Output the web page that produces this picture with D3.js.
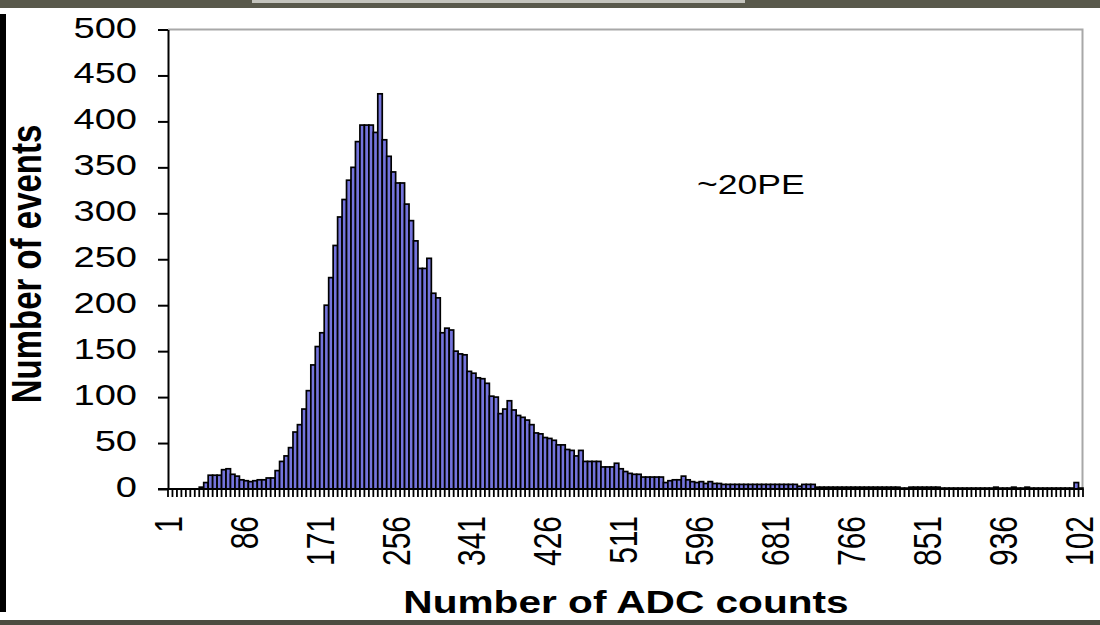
<!DOCTYPE html>
<html>
<head>
<meta charset="utf-8">
<script src="https://cdn.jsdelivr.net/npm/d3@7"></script>
<style>
  body{margin:0;background:#fff}
  svg{display:block}
</style>
</head>
<body>
<script>
// ADC bins (start of each 5-count bin)
const categories=[
  1,6,11,16,21,26,31,36,41,46,51,56,61,66,71,76,81,86,91,96,
  101,106,111,116,121,126,131,136,141,146,151,156,161,166,171,176,181,186,191,196,
  201,206,211,216,221,226,231,236,241,246,251,256,261,266,271,276,281,286,291,296,
  301,306,311,316,321,326,331,336,341,346,351,356,361,366,371,376,381,386,391,396,
  401,406,411,416,421,426,431,436,441,446,451,456,461,466,471,476,481,486,491,496,
  501,506,511,516,521,526,531,536,541,546,551,556,561,566,571,576,581,586,591,596,
  601,606,611,616,621,626,631,636,641,646,651,656,661,666,671,676,681,686,691,696,
  701,706,711,716,721,726,731,736,741,746,751,756,761,766,771,776,781,786,791,796,
  801,806,811,816,821,826,831,836,841,846,851,856,861,866,871,876,881,886,891,896,
  901,906,911,916,921,926,931,936,941,946,951,956,961,966,971,976,981,986,991,996,
  1001,1006,1011,1016,1021
];
// number of events per bin
const counts=[
  0,0,0,0,0,0,0,2,7,15,15,15,21,22,16,14,10,9,8,9,
  10,10,12,12,20,30,36,45,62,70,87,107,135,155,170,200,230,265,296,315,
  336,350,378,396,396,396,388,430,380,362,345,333,333,310,292,270,240,240,251,213,
  208,170,175,173,150,147,146,128,126,121,120,115,101,100,82,87,96,86,80,78,
  75,70,61,60,56,55,53,48,48,43,42,36,42,30,30,30,30,24,24,24,
  28,22,19,17,16,16,13,13,13,13,13,7,9,10,10,14,10,8,7,8,
  6,8,6,6,5,5,5,5,5,5,5,5,5,5,5,5,5,5,5,5,
  5,3,5,5,5,2,2,2,2,2,2,2,2,2,2,2,2,2,2,2,
  2,2,2,2,1,1,2,2,2,2,2,2,2,1,1,1,1,1,1,1,
  1,1,1,1,1,2,1,1,1,2,1,1,2,1,1,1,1,1,1,1,
  1,1,1,7,1
];
const yTicks=[0,50,100,150,200,250,300,350,400,450,500];
const tickCats=[1,86,171,256,341,426,511,596,681,766,851,936,1021];
const tickLabels=['1','86','171','256','341','426','511','596','681','766','851','936','102'];

const width=1100, height=625;
const sx=1.27;   // the source picture is stretched sideways, so is the text
const font='"Liberation Sans", Arial, sans-serif';

const svg=d3.select('body').append('svg')
    .attr('width',width)
    .attr('height',height);

// bits of the screenshot frame
svg.append('rect').attr('x',0).attr('y',0).attr('width',width).attr('height',8).attr('fill','#59594b');
svg.append('rect').attr('x',252).attr('y',0).attr('width',493).attr('height',3).attr('fill','#c4c4bd');
svg.append('rect').attr('x',0).attr('y',14).attr('width',6).attr('height',598).attr('fill','#000');
svg.append('rect').attr('x',0).attr('y',620).attr('width',width).attr('height',5).attr('fill','#4d4d41');

const x=d3.scaleBand()
    .domain(categories)
    .range([168,1083])
    .padding(0);
const y=d3.scaleLinear()
    .domain([0,500])
    .range([489,29.5]);

// plot area border (grey top / right)
svg.append('path')
    .attr('d',`M168,${y(500)}H${x.range()[1]-0.5}V${y(0)}`)
    .attr('fill','none')
    .attr('stroke','#a8a8a8')
    .attr('stroke-width',2);

// bars
const bw=x.bandwidth();
svg.append('g').selectAll('rect')
    .data(categories.map((c,i)=>({c,v:counts[i]})).filter(d=>d.v>0))
    .join('rect')
        .attr('x',d=>x(d.c))
        .attr('y',d=>y(d.v))
        .attr('width',bw)
        .attr('height',d=>y(0)-y(d.v))
        .attr('fill','#7474dc')
        .attr('stroke','#000')
        .attr('stroke-width',1.7);

// y axis
const yAxis=svg.append('g')
    .attr('transform','translate(168,0)')
    .call(d3.axisLeft(y).tickValues(yTicks).tickSize(10).tickSizeOuter(0));
yAxis.attr('font-family',font).attr('font-size',30);
yAxis.select('.domain').attr('stroke','#000').attr('stroke-width',2);
yAxis.selectAll('.tick line').attr('stroke','#000').attr('stroke-width',2);
yAxis.selectAll('.tick text')
    .attr('fill','#000')
    .attr('x',-31/sx)
    .attr('dy','0.25em')
    .attr('transform',`scale(${sx},1)`);

// x axis line and a tick between every bin
svg.append('line')
    .attr('x1',158).attr('x2',x.range()[1])
    .attr('y1',y(0)).attr('y2',y(0))
    .attr('stroke','#000').attr('stroke-width',2);
svg.append('g').selectAll('line')
    .data(categories.map(c=>x(c)).concat([x.range()[1]]))
    .join('line')
        .attr('x1',d=>d).attr('x2',d=>d)
        .attr('y1',y(0)).attr('y2',y(0)+8)
        .attr('stroke','#000')
        .attr('stroke-width',1.8);

// rotated x labels
svg.append('g').selectAll('text')
    .data(tickCats)
    .join('text')
        .attr('transform',d=>`translate(${x(d)+bw/2-2},516) scale(${sx},1) rotate(-90)`)
        .attr('text-anchor','end')
        .attr('dy','0.36em')
        .attr('font-family',font)
        .attr('font-size',30)
        .attr('fill','#000')
        .text((d,i)=>tickLabels[i]);

// axis titles
svg.append('text')
    .attr('transform',`translate(26,264) scale(${sx},1) rotate(-90)`)
    .attr('text-anchor','middle')
    .attr('dy','0.36em')
    .attr('font-family',font)
    .attr('font-weight','bold')
    .attr('font-size',33)
    .attr('fill','#000')
    .text('Number of events');

svg.append('text')
    .attr('transform',`translate(626,613) scale(${sx},1)`)
    .attr('text-anchor','middle')
    .attr('font-family',font)
    .attr('font-weight','bold')
    .attr('font-size',32)
    .attr('fill','#000')
    .text('Number of ADC counts');

// annotation
svg.append('text')
    .attr('transform',`translate(697,194) scale(${sx},1)`)
    .attr('font-family',font)
    .attr('font-size',28)
    .attr('fill','#000')
    .text('~20PE');
</script>
</body>
</html>
